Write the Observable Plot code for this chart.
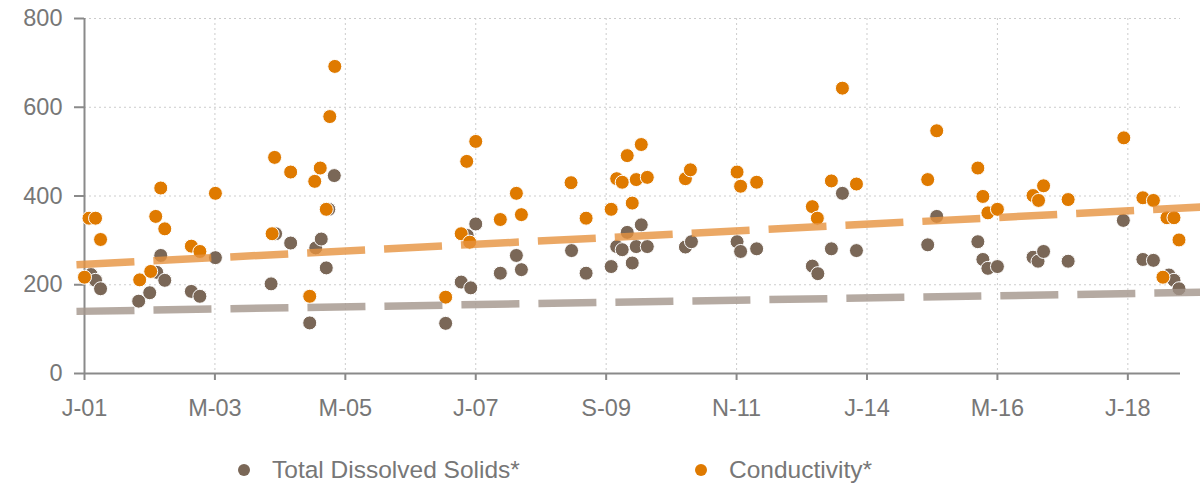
<!DOCTYPE html>
<html>
<head>
<meta charset="utf-8">
<script src="https://cdn.jsdelivr.net/npm/d3@7"></script>
<script src="https://cdn.jsdelivr.net/npm/@observablehq/plot@0.6"></script>
<style>
  html, body { margin: 0; padding: 0; background: #fff; }
  body { width: 1200px; height: 486px; overflow: hidden; font-family: "Liberation Sans", Arial, sans-serif; }
  #chart svg { display: block; }
  #legend { position: relative; width: 1200px; height: 56px; color: #777; font-size: 24.5px; }
  .item { position: absolute; top: 26px; display: flex; align-items: center; white-space: nowrap; }
  .sw { width: 12px; height: 12px; border-radius: 50%; margin-right: 22px; }
</style>
</head>
<body>
<div id="chart"></div>
<div id="legend"></div>
<script>
// x values: months since January 2001
const tdsMonth = [1.3, 2.2, 3.2, 10.8, 13.0, 14.4, 15.2, 16.0, 21.3, 23.0, 26.1, 37.2, 38.1, 41.1, 44.9, 46.1, 47.2, 48.2, 48.7, 49.8,
  72.0, 75.1, 76.3, 77.0, 78.0, 82.9, 86.1, 87.1, 97.1, 100.0, 105.0, 106.1, 107.2, 108.2, 109.2, 110.0, 111.0, 112.2,
  119.8, 121.0, 130.1, 130.8, 134.0, 145.1, 146.2, 148.9, 151.1, 153.9, 168.1, 169.9, 178.1, 179.1, 180.1, 182.0,
  189.1, 190.1, 191.2, 196.1, 207.1, 211.0, 213.1, 216.2, 217.2, 218.2];
const tdsValue = [223, 210, 191, 163, 182, 228, 266, 210, 185, 174, 261, 202, 315, 294, 114, 283, 303, 238, 370, 446,
  113, 206, 311, 193, 337, 226, 266, 234, 277, 226, 241, 286, 279, 318, 249, 286, 335, 286,
  285, 297, 297, 275, 281, 242, 225, 281, 406, 277, 290, 354, 297, 257, 237, 241,
  262, 253, 275, 253, 345, 257, 255, 222, 210, 191];

const condMonth = [0.0, 0.9, 2.2, 3.2, 11.0, 13.2, 14.2, 15.2, 16.0, 21.3, 23.0, 26.1, 37.4, 37.9, 41.1, 44.9, 45.9, 47.0, 48.2, 48.9, 49.9,
  72.0, 75.1, 76.2, 76.8, 78.0, 82.9, 86.1, 87.1, 97.0, 100.0, 105.0, 106.1, 107.2, 108.2, 109.2, 110.0, 111.0, 112.2,
  119.8, 120.8, 130.1, 130.8, 134.0, 145.1, 146.1, 148.9, 151.1, 153.9, 168.1, 169.9, 178.1, 179.1, 180.1, 182.0,
  189.1, 190.2, 191.2, 196.1, 207.2, 211.0, 213.1, 215.0, 215.8, 217.2, 218.2];
const condValue = [217, 350, 350, 302, 211, 230, 354, 418, 326, 287, 275, 406, 315, 487, 454, 174, 433, 463, 370, 579, 692,
  172, 315, 478, 296, 523, 347, 406, 358, 430, 350, 370, 439, 431, 491, 384, 437, 516, 442,
  439, 459, 454, 422, 431, 376, 350, 434, 643, 427, 437, 547, 463, 399, 362, 370,
  401, 390, 423, 392, 531, 396, 390, 217, 351, 351, 301];

const trendMonth = [-1.6, 222.5];
const tdsTrend = [140, 183];
const condTrend = [245, 375];

const tickMonths = [0, 26, 52, 78, 104, 130, 156, 182, 208];
const tickLabels = ["J-01", "M-03", "M-05", "J-07", "S-09", "N-11", "J-14", "M-16", "J-18"];
const yTicks = [0, 200, 400, 600, 800];

const seriesNames = ["Total Dissolved Solids*", "Conductivity*"];
const seriesColors = ["#7a6757", "#df7a00"];
const trendColors = ["#a2958b", "#e6923e"];

const tds = tdsMonth.map((m, i) => ({m, v: tdsValue[i]}));
const cond = condMonth.map((m, i) => ({m, v: condValue[i]}));
const tdsT = trendMonth.map((m, i) => ({m, v: tdsTrend[i]}));
const condT = trendMonth.map((m, i) => ({m, v: condTrend[i]}));

const axisColor = "#8a8a8a";
const gridStyle = {stroke: "#cccccc", strokeOpacity: 1, strokeDasharray: "2,3", strokeWidth: 1};

const chart = Plot.plot({
  width: 1200,
  height: 430,
  marginLeft: 84,
  marginRight: 20,
  marginTop: 18,
  marginBottom: 57,
  style: {fontFamily: "'Liberation Sans', Arial, sans-serif", fontSize: "23.5px", color: "#777", background: "white", overflow: "visible"},
  x: {domain: [0, 218.5], label: null},
  y: {domain: [0, 800], label: null},
  marks: [
    Plot.gridY(yTicks, gridStyle),
    Plot.gridX(tickMonths, gridStyle),
    Plot.ruleX([0], {stroke: axisColor, strokeWidth: 2}),
    Plot.ruleY([0], {stroke: axisColor, strokeWidth: 2}),
    Plot.axisY(yTicks, {tickSize: 10, tickPadding: 12, stroke: axisColor, strokeWidth: 2, fill: "#777", label: null}),
    Plot.axisX(tickMonths, {tickSize: 7, tickPadding: 19, stroke: axisColor, strokeWidth: 2, fill: "#777", label: null,
      tickFormat: (d) => tickLabels[tickMonths.indexOf(d)]}),
    Plot.dot(tds, {x: "m", y: "v", r: 7, fill: seriesColors[0], stroke: "white", strokeWidth: 1}),
    Plot.dot(cond, {x: "m", y: "v", r: 7, fill: seriesColors[1], stroke: "white", strokeWidth: 1}),
    Plot.line(tdsT, {x: "m", y: "v", stroke: trendColors[0], strokeOpacity: 0.8, strokeWidth: 7.5, strokeDasharray: "58,19", strokeLinecap: "butt"}),
    Plot.line(condT, {x: "m", y: "v", stroke: trendColors[1], strokeOpacity: 0.8, strokeWidth: 7.5, strokeDasharray: "58,19", strokeLinecap: "butt"})
  ]
});
document.getElementById("chart").appendChild(chart);

const legend = document.getElementById("legend");
const legendX = [238, 695];
seriesNames.forEach((name, i) => {
  const it = document.createElement("div");
  it.className = "item";
  it.style.left = legendX[i] + "px";
  const sw = document.createElement("span");
  sw.className = "sw";
  sw.style.background = seriesColors[i];
  const tx = document.createElement("span");
  tx.textContent = name;
  it.appendChild(sw);
  it.appendChild(tx);
  legend.appendChild(it);
});
</script>
</body>
</html>
